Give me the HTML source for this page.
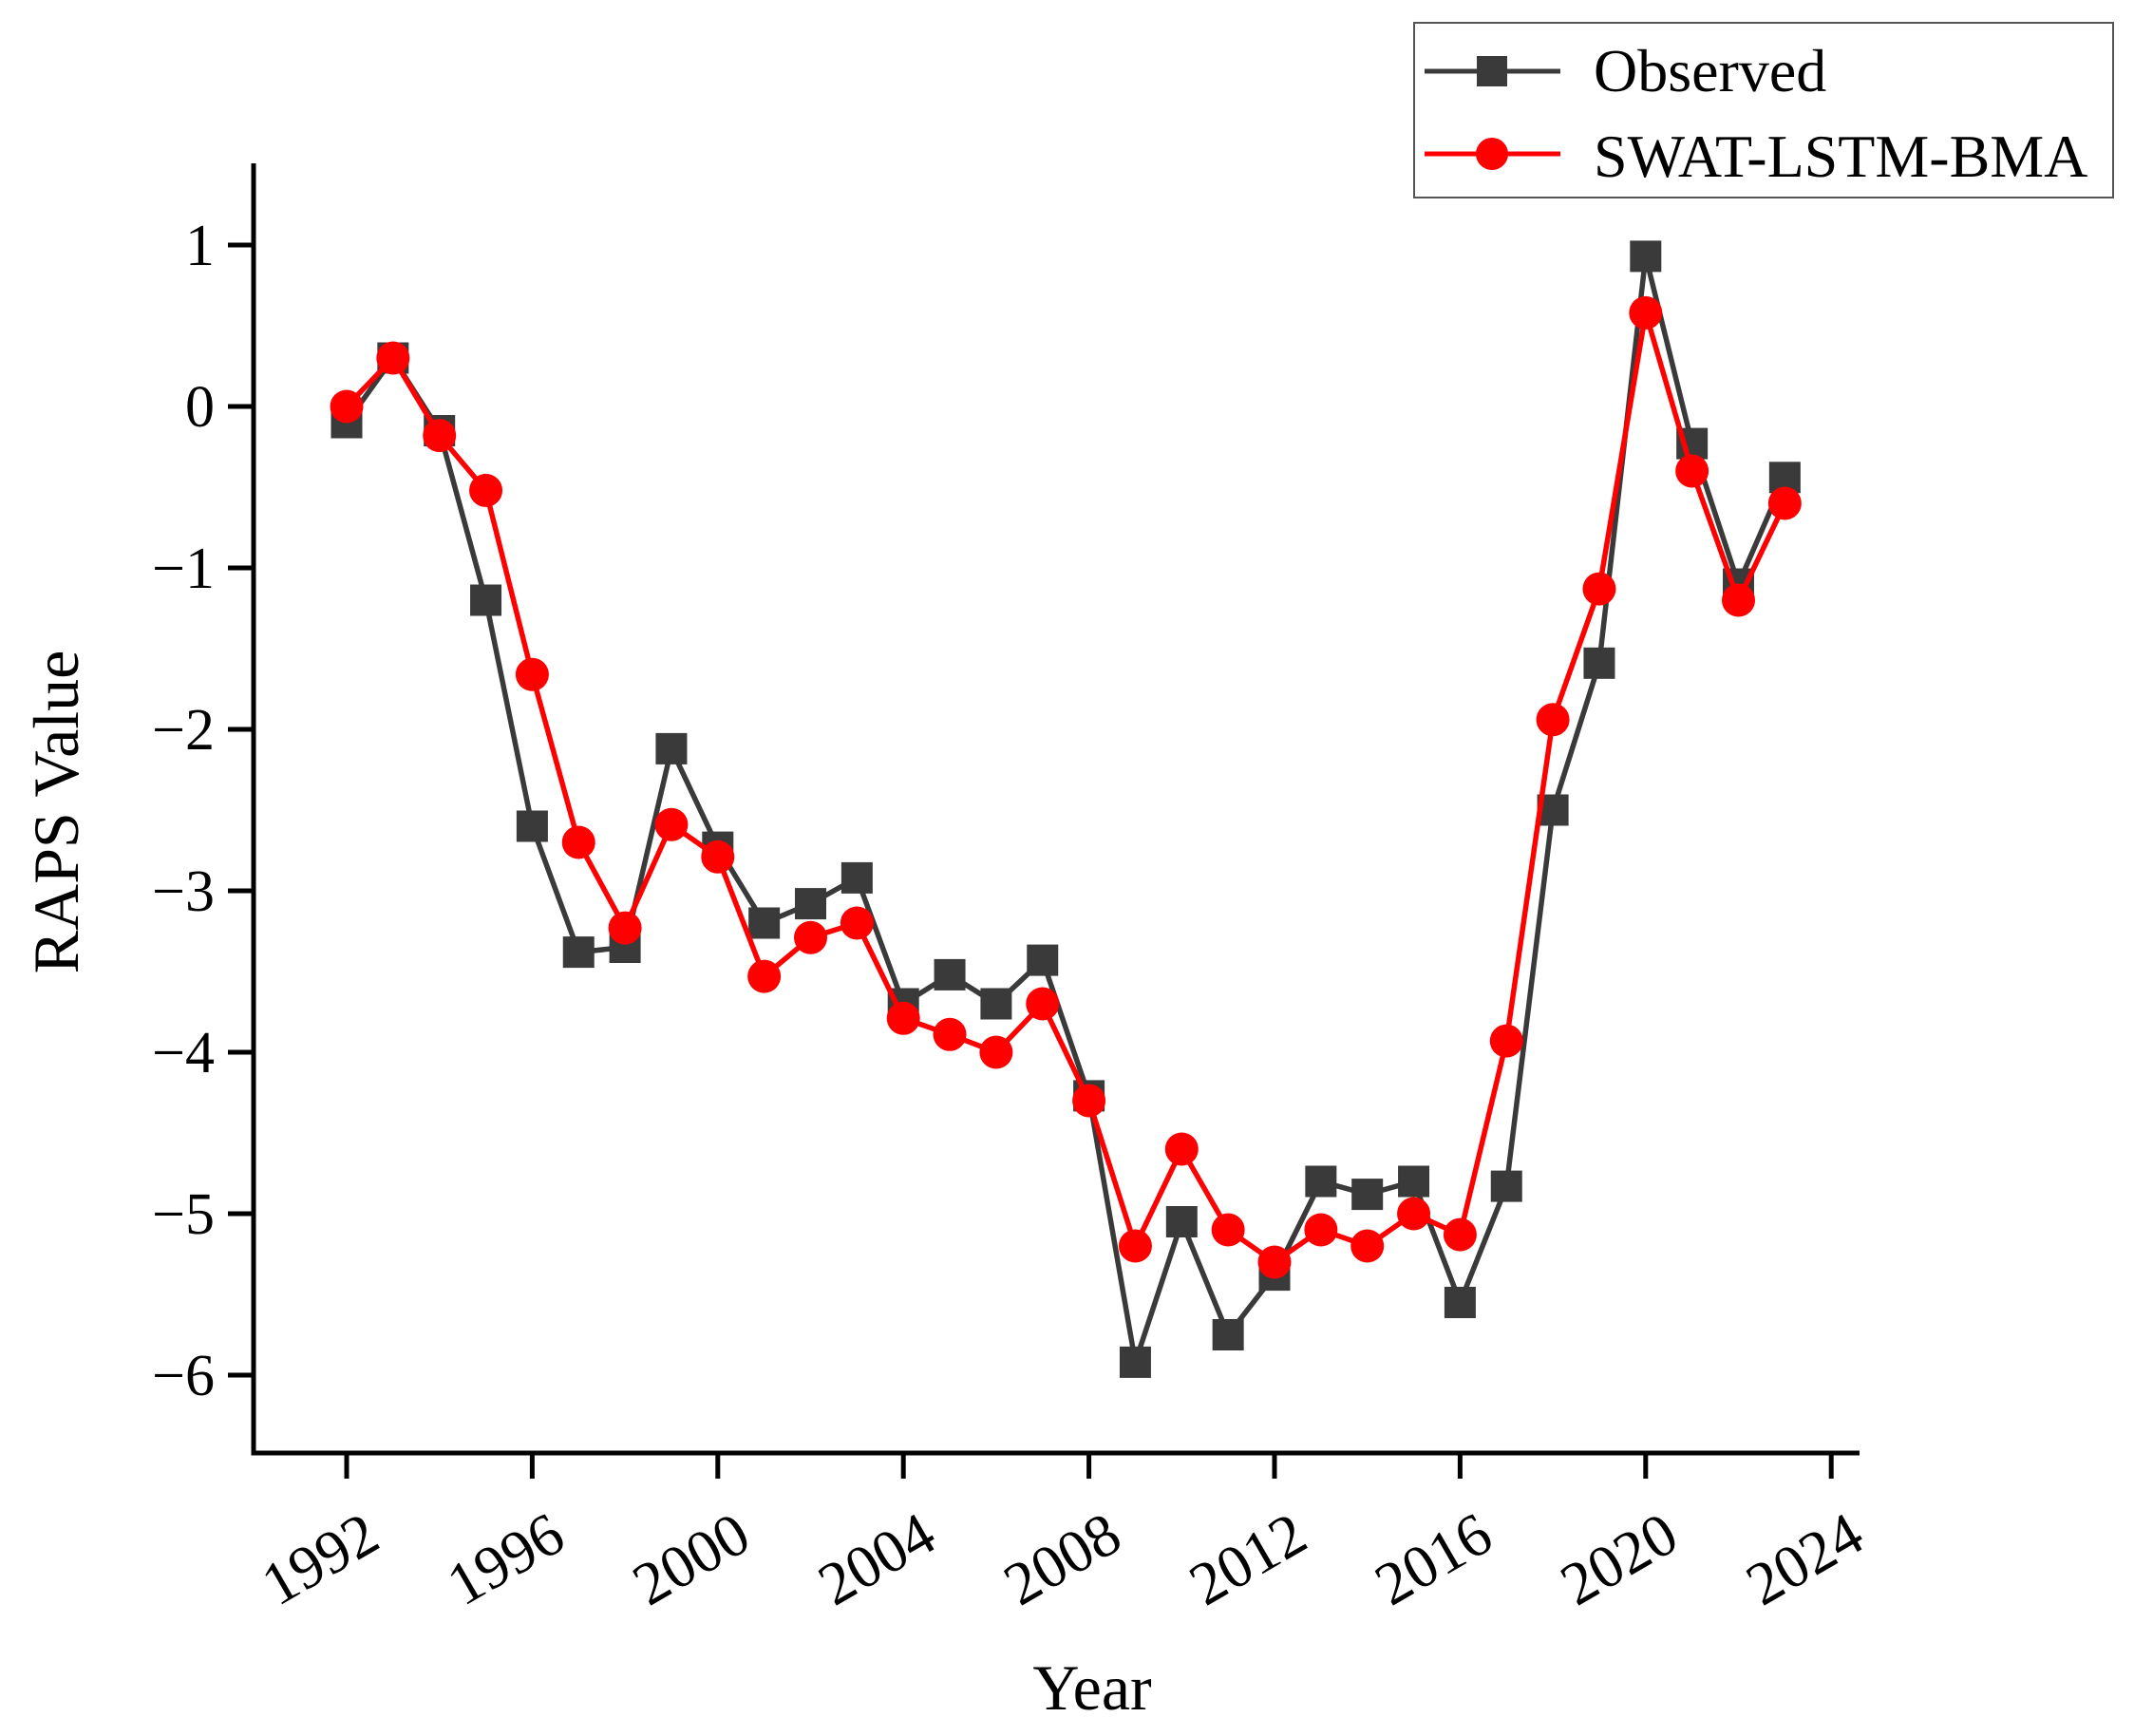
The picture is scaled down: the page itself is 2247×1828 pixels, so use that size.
<!DOCTYPE html>
<html><head><meta charset="utf-8"><style>
html,body{margin:0;padding:0;background:#fff;}
svg{display:block;font-family:"Liberation Serif",serif;}
</style></head><body>
<svg id="chart" width="2247" height="1828" viewBox="0 0 2247 1828">
<g id="axes"></g>
<g id="series"></g>
<text x="82" y="855" font-size="68" text-anchor="middle" transform="rotate(-90 82 855)">RAPS Value</text>
<text x="1150" y="1800" font-size="68" text-anchor="middle">Year</text>
<g>
<rect x="1489" y="24" width="736" height="184" fill="#fff" stroke="#555" stroke-width="2"/>
<g>
<line x1="1500" y1="75" x2="1643" y2="75" stroke="#3a3a3a" stroke-width="5"/>
<rect x="1555" y="59" width="32" height="32" fill="#3a3a3a"/>
<text x="1678" y="96" font-size="64">Observed</text>
</g>
<g>
<line x1="1500" y1="162" x2="1643" y2="162" stroke="#ff0000" stroke-width="5"/>
<circle cx="1571" cy="162" r="17" fill="#ff0000"/>
<text x="1678" y="186" font-size="64">SWAT-LSTM-BMA</text>
</g>
</g>
</svg>
<script>
const years = [1992,1993,1994,1995,1996,1997,1998,1999,2000,2001,2002,2003,2004,2005,2006,2007,2008,2009,2010,2011,2012,2013,2014,2015,2016,2017,2018,2019,2020,2021,2022,2023];
const observed = [-0.1,0.3,-0.15,-1.2,-2.6,-3.38,-3.35,-2.12,-2.73,-3.2,-3.08,-2.92,-3.7,-3.52,-3.7,-3.43,-4.27,-5.92,-5.05,-5.75,-5.38,-4.8,-4.88,-4.8,-5.55,-4.83,-2.5,-1.59,0.93,-0.23,-1.1,-0.44];
const model = [0.0,0.3,-0.18,-0.52,-1.66,-2.7,-3.23,-2.59,-2.79,-3.53,-3.29,-3.2,-3.79,-3.89,-4.0,-3.7,-4.3,-5.2,-4.6,-5.1,-5.3,-5.1,-5.2,-5.0,-5.13,-3.93,-1.94,-1.13,0.58,-0.4,-1.2,-0.6];
const yTicks = [1,0,-1,-2,-3,-4,-5,-6];
const xTicks = [1992,1996,2000,2004,2008,2012,2016,2020,2024];

const NS = "http://www.w3.org/2000/svg";
const xs = v => 365 + (v - 1992) * 48.85;
const ys = v => 428 - v * 170;
function mk(tag, attrs, parent){const e=document.createElementNS(NS,tag);for(const k in attrs)e.setAttribute(k,attrs[k]);parent.appendChild(e);return e;}
const axes=document.getElementById('axes'), series=document.getElementById('series');

const yAxis = mk('path',{d:'M267 172 V1530 H1958',fill:'none',stroke:'#000','stroke-width':5},axes);


yTicks.forEach(t=>{
  const g=mk('g',{},axes);
  
  
  mk('line',{x1:240,x2:267,y1:ys(t),y2:ys(t),stroke:'#000','stroke-width':5},g);
  const tx=mk('text',{x:226,y:ys(t)+21,'font-size':62,'text-anchor':'end'},g);
  tx.textContent = t<0 ? '\u2212'+Math.abs(t) : String(t);
});
xTicks.forEach(t=>{
  const g=mk('g',{},axes);
  
  
  mk('line',{x1:xs(t),x2:xs(t),y1:1530,y2:1557,stroke:'#000','stroke-width':5},g);
  const x=xs(t)+38, y=1628;
  const tx=mk('text',{x:x,y:y,'font-size':64,'text-anchor':'end',transform:`rotate(-30 ${x} ${y})`},g);
  tx.textContent=String(t);
});

function drawSeries(vals,color,kind,name){
  const g=mk('g',{},series);
  
  
  const pts=vals.map((v,i)=>xs(years[i])+','+ys(v)).join(' ');
  const pl=mk('polyline',{points:pts,fill:'none',stroke:color,'stroke-width':5.5,'stroke-linejoin':'round'},g);
  
  
  vals.forEach((v,i)=>{
    let m;
    if(kind==='square') m=mk('rect',{x:xs(years[i])-16.5,y:ys(v)-16.5,width:33,height:33,fill:color},g);
    else m=mk('circle',{cx:xs(years[i]),cy:ys(v),r:17.5,fill:color},g);
    
    
  });
}
drawSeries(observed,'#3a3a3a','square','observed-series');
drawSeries(model,'#ff0000','circle','swat-lstm-bma-series');
</script>
</body></html>
